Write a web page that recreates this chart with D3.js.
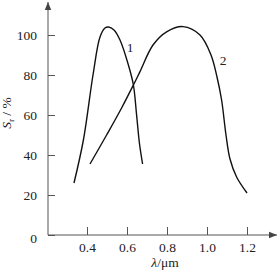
<!DOCTYPE html>
<html>
<head>
<meta charset="utf-8">
<script src="https://cdn.jsdelivr.net/npm/d3@7"></script>
<style>
  body { margin: 0; background: #fff; }
  text { font-family: "Liberation Serif", "DejaVu Serif", serif; }
</style>
</head>
<body>
<div id="chart"></div>
<script>
// spectral response curves: [wavelength um, relative response %]
const curve1 = [[0.335, 26], [0.382, 47.5], [0.43, 80], [0.465, 99],
  [0.49, 103.5], [0.507, 104], [0.535, 102.5], [0.565, 97.5], [0.607, 85], [0.632, 75],
  [0.648, 60], [0.662, 46], [0.678, 35.5]];
const curve2 = [[0.415, 35.5], [0.498, 50], [0.573, 63.5], [0.632, 75], [0.665, 81.7],
  [0.73, 95], [0.80, 101.7], [0.88, 104.2], [0.965, 100], [1.02, 90], [1.05, 79],
  [1.073, 67.5], [1.095, 50], [1.115, 38], [1.148, 29], [1.2, 21]];
const xTicks = [0.4, 0.6, 0.8, 1.0, 1.2];
const yTicks = [0, 20, 40, 60, 80, 100];
const curveLabels = [{ name: "1", x: 0.615, y: 94 }, { name: "2", x: 1.08, y: 87.5 }];

const width = 279, height = 272;

const x = d3.scaleLinear().domain([0.4, 1.2]).range([87, 247]);
const y = d3.scaleLinear().domain([0, 100]).range([235, 35]);

const svg = d3.select("#chart").append("svg")
  .attr("width", width)
  .attr("height", height);

svg.append("defs").append("marker")
  .attr("id", "arrow")
  .attr("viewBox", "0 0 10 10")
  .attr("refX", 10).attr("refY", 5)
  .attr("markerWidth", 8).attr("markerHeight", 8)
  .attr("markerUnits", "userSpaceOnUse")
  .attr("orient", "auto")
  .append("path")
  .attr("d", "M0,1L10,5L0,9Z")
  .attr("fill", "#444");

const axisColor = "#555";
const fs = 13.5;

// x axis
const gx = svg.append("g")
  .attr("transform", `translate(0,${y(0)})`)
  .call(d3.axisBottom(x).tickValues(xTicks).tickFormat(d3.format(".1f"))
    .tickSize(-8).tickPadding(7))
  .call(g => g.select(".domain").remove());

// y axis
const gy = svg.append("g")
  .attr("transform", `translate(${x(0.205)},0)`)
  .call(d3.axisLeft(y).tickValues(yTicks).tickSize(-7).tickPadding(11))
  .call(g => g.select(".domain").remove());

[gx, gy].forEach(g => {
  g.selectAll(".tick line").attr("stroke", axisColor);
  g.selectAll(".tick text").attr("fill", "#222").attr("font-size", fs);
});
gy.selectAll(".tick").filter(d => d === 0).select("text").attr("dy", "0.55em");

svg.append("line")
  .attr("x1", x(0.205)).attr("y1", y(0))
  .attr("x2", x(1.35)).attr("y2", y(0))
  .attr("stroke", axisColor).attr("marker-end", "url(#arrow)");
svg.append("line")
  .attr("x1", x(0.205)).attr("y1", y(0))
  .attr("x2", x(0.205)).attr("y2", y(116.5))
  .attr("stroke", axisColor).attr("marker-end", "url(#arrow)");

const line = d3.line()
  .x(d => x(d[0]))
  .y(d => y(d[1]))
  .curve(d3.curveCatmullRom.alpha(0.5));

svg.append("g")
  .selectAll("path")
  .data([curve1, curve2])
  .join("path")
  .attr("d", line)
  .attr("fill", "none")
  .attr("stroke", "#111")
  .attr("stroke-width", 1.4);

svg.append("g")
  .selectAll("text")
  .data(curveLabels)
  .join("text")
  .attr("x", d => x(d.x))
  .attr("y", d => y(d.y))
  .attr("dy", "0.35em")
  .attr("text-anchor", "middle")
  .attr("font-size", fs)
  .attr("fill", "#222")
  .text(d => d.name);

// axis titles
const ylab = svg.append("text")
  .attr("transform", `translate(11,${y(61)}) rotate(-90)`)
  .attr("text-anchor", "middle")
  .attr("font-size", fs)
  .attr("fill", "#222");
ylab.append("tspan").attr("font-style", "italic").text("S");
ylab.append("tspan").attr("font-size", 9).attr("dy", 3).text("r");
ylab.append("tspan").attr("dy", -3).text(" / %");

const xlab = svg.append("text")
  .attr("x", x(0.79))
  .attr("y", 267)
  .attr("text-anchor", "middle")
  .attr("font-size", fs)
  .attr("fill", "#222");
xlab.append("tspan").attr("font-style", "italic").text("λ");
xlab.append("tspan").text("/μm");
</script>
</body>
</html>
